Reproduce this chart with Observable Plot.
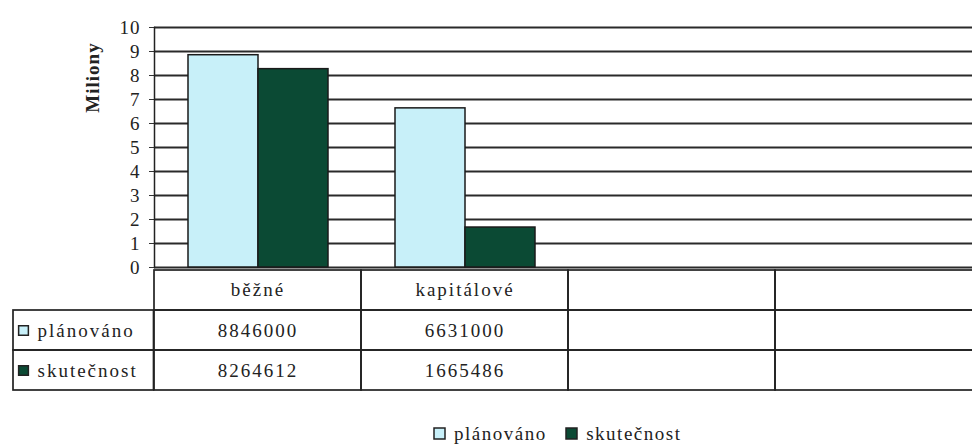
<!DOCTYPE html>
<html><head><meta charset="utf-8">
<script src="https://cdn.jsdelivr.net/npm/d3@7"></script>
<script src="https://cdn.jsdelivr.net/npm/@observablehq/plot@0.6"></script>
<style>
html,body{margin:0;padding:0;background:#fff;overflow:hidden;}
#wrap{width:972px;overflow:hidden;}
#wrap svg{display:block;max-width:none !important;}
#wrap svg, #wrap svg text{font-family:"Liberation Serif",serif !important;}
#chart{position:relative;z-index:2;}
#chart svg{overflow:visible !important;}
#chart svg text{letter-spacing:1px;}
#table svg text{letter-spacing:2px;}
#legend{margin-top:24px;padding-left:162px;width:810px;}
#legend div, #legend span{justify-content:center !important;font-family:"Liberation Serif",serif !important;font-size:19px !important;letter-spacing:1.5px;color:#222;}
#legend svg rect{stroke:#222;stroke-width:1.5px;}
</style></head><body>
<div id="wrap"><div id="chart"></div><div id="table"></div></div>
<div id="legend"></div>
<script>
// ---- data ----
const categories = ["běžné", "kapitálové", "", ""];
const series = ["plánováno", "skutečnost"];
const planned = [8846000, 6631000, null, null];
const actual = [8264612, 1665486, null, null];
const yTicks = [0, 1, 2, 3, 4, 5, 6, 7, 8, 9, 10];
const yLabel = "Miliony";
const colors = ["#c8f0f9", "#0b4a34"];
const headerKey = "_header";

// ---- derived tables ----
const cols = d3.range(categories.length);
const rows = [];
cols.forEach(i => {
  rows.push({col: i, series: series[0], value: planned[i]});
  rows.push({col: i, series: series[1], value: actual[i]});
});
const rowKeys = [headerKey, ...series];
const headerCells = cols.map(i => ({col: i, row: headerKey, text: categories[i]}));
const valueCells = [];
cols.forEach(i => {
  valueCells.push({col: i, row: series[0], text: planned[i] == null ? "" : String(planned[i])});
  valueCells.push({col: i, row: series[1], text: actual[i] == null ? "" : String(actual[i])});
});
const allCells = [...headerCells, ...valueCells];

const font = "Liberation Serif";
const ink = "#222";

// ---- chart ----
const chart = Plot.plot({
  width: 983, height: 269,
  marginLeft: 153, marginRight: 0, marginTop: 27, marginBottom: 2,
  style: {fontFamily: font, fontSize: "19px", color: ink, background: "transparent", maxWidth: "none", overflow: "visible"},
  fx: {domain: cols, padding: 0, axis: null},
  x: {domain: series, paddingInner: 0, paddingOuter: 0.47, axis: null},
  y: {domain: [0, 10], axis: null},
  color: {domain: series, range: colors},
  marks: [
    Plot.gridY(yTicks, {stroke: "#2a2a2a", strokeOpacity: 1, strokeWidth: 2}),
    Plot.barY(rows, {fx: "col", x: "series", y: d => d.value == null ? null : d.value / 1e6, fill: "series", stroke: "#1a1a1a", strokeWidth: 1.5}),
    Plot.axisY(yTicks, {tickSize: 5, tickPadding: 9, facetAnchor: "left", stroke: "#333", fontSize: 19, fontFamily: font, fill: ink}),
    Plot.frame({anchor: "left", facetAnchor: "left", stroke: ink, strokeWidth: 1.5}),
    Plot.text([yLabel], {frameAnchor: "top-left", textAnchor: "middle", lineAnchor: "middle", facetAnchor: "left", rotate: -90, dx: -62, dy: 50, fontWeight: "bold", fontSize: 19, fontFamily: font, fill: ink})
  ]
});
document.getElementById("chart").append(chart);

// ---- data table ----
const table = Plot.plot({
  width: 983, height: 124,
  marginLeft: 153, marginRight: 0, marginTop: 0, marginBottom: 3,
  style: {fontFamily: font, fontSize: "19px", color: ink, background: "transparent", maxWidth: "none"},
  x: {domain: cols, padding: 0, axis: null},
  y: {domain: rowKeys, padding: 0, axis: null},
  color: {domain: series, range: colors},
  marks: [
    Plot.cell(allCells, {x: "col", y: "row", fill: "none", stroke: ink, strokeWidth: 1.7}),
    Plot.cell(series, {x: () => cols[0], y: d => d, fill: "none", stroke: ink, strokeWidth: 1.7, insetLeft: -141, insetRight: 207.5}),
    Plot.text(headerCells, {x: "col", y: "row", text: "text", fontSize: 19, fontFamily: font, dy: -1, fill: ink}),
    Plot.text(valueCells, {x: "col", y: "row", text: "text", fontSize: 19, fontFamily: font, fill: ink}),
    Plot.dot(series, {y: d => d, frameAnchor: "left", dx: -130, symbol: "square", r: 5.5, fill: d => d, stroke: ink, strokeWidth: 1.5}),
    Plot.text(series, {y: d => d, frameAnchor: "left", textAnchor: "start", dx: -116, text: d => d, fontSize: 19, fontFamily: font, fill: ink})
  ]
});
document.getElementById("table").append(table);

// ---- legend ----
const legend = Plot.legend({color: {domain: series, range: colors}, swatchSize: 11});
document.getElementById("legend").append(legend);
</script>
</body></html>
